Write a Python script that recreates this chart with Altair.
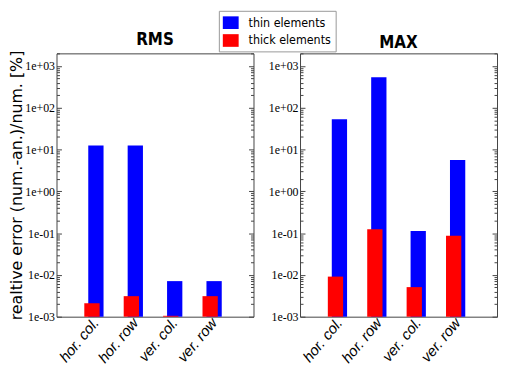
import altair as alt
import pandas as pd

categories = ["hor. col.", "hor. row", "ver. col.", "ver. row"]
series_names = ["thin elements", "thick elements"]
rms_thin = [12.5, 12.5, 0.0071, 0.0071]
rms_thick = [0.0021, 0.0031, 0.00105, 0.0031]
max_thin = [53, 540, 0.113, 5.6]
max_thick = [0.0091, 0.124, 0.0051, 0.086]

decades = [10.0 ** e for e in range(-3, 4)]
minor = [m * 10.0 ** e for e in range(-3, 4) for m in range(2, 10) if m * 10.0 ** e <= 2000]

FRAME = "#444444"
NARROW = "Liberation Sans Narrow, DejaVu Sans Condensed, Liberation Sans, sans-serif"
label_expr = ("'1e' + (round(log(datum.value)/LN10) < 0 ? '-' : '+') + "
              "(abs(round(log(datum.value)/LN10)) < 10 ? '0' : '') + abs(round(log(datum.value)/LN10))")

ysc = alt.Scale(type="log", domain=[0.001, 2000], nice=False)
xsc = alt.Scale(domain=categories, paddingInner=0.612, paddingOuter=0.806)

legend = alt.Legend(
    title=None, orient="none", legendX=164, legendY=-43,
    symbolType="M-1,-0.8H1V0.8H-1Z", symbolSize=256, symbolStrokeWidth=0,
    labelFont=NARROW, labelFontSize=12.5, labelColor="black",
    labelOffset=10, rowPadding=3, padding=4,
    strokeColor="#999999", fillColor="white",
)
color = alt.Color("type:N", scale=alt.Scale(domain=series_names, range=["#0000ff", "#ff0000"]),
                  legend=legend)

xaxis = alt.Axis(title=None, ticks=False, domain=False, labelAngle=-50,
                 labelFont="Liberation Sans", labelFontStyle="italic",
                 labelFontSize=15, labelColor="black", labelPadding=3)
X = alt.X("category:N", sort=categories, scale=xsc, axis=xaxis)


def panel(thin, thick, name, ytitle):
    df = pd.DataFrame({
        "category": categories * 2,
        "type": [series_names[0]] * 4 + [series_names[1]] * 4,
        "value": list(thin) + list(thick),
    })
    base = alt.Chart(df)
    major_left = alt.Axis(values=decades, labelExpr=label_expr, tickSize=5, offset=-5,
                          domain=False, grid=False, tickColor=FRAME,
                          labelFont="Liberation Serif", labelFontSize=12, labelColor="black",
                          labelPadding=2, orient="left",
                          title=ytitle if ytitle else None,
                          titleFont="DejaVu Sans", titleFontSize=16, titleFontWeight="normal",
                          titleColor="black", titlePadding=0)
    minor_left = alt.Axis(values=minor, labels=False, tickSize=3, offset=-3, domain=False,
                          grid=False, tickColor=FRAME, title=None, orient="left")
    major_right = alt.Axis(values=decades, labels=False, tickSize=5, offset=-5, domain=False,
                           grid=False, tickColor=FRAME, title=None, orient="right")
    minor_right = alt.Axis(values=minor, labels=False, tickSize=3, offset=-3, domain=False,
                           grid=False, tickColor=FRAME, title=None, orient="right")

    thin_layer = base.transform_filter(alt.datum.type == series_names[0]).mark_bar().encode(
        x=X,
        y=alt.Y("value:Q", scale=ysc, axis=major_left),
        y2=alt.datum(0.001),
        color=color,
    )
    thick_layer = base.transform_filter(alt.datum.type == series_names[1]).mark_bar(xOffset=-4).encode(
        x=X,
        y=alt.Y("value:Q", scale=ysc, axis=major_right),
        y2=alt.datum(0.001),
        color=color,
    )
    m1 = base.mark_bar(opacity=0).encode(
        x=X,
        y=alt.Y("value:Q", scale=ysc, axis=minor_left),
        y2=alt.datum(0.001),
    )
    m2 = base.mark_bar(opacity=0).encode(
        x=X,
        y=alt.Y("value:Q", scale=ysc, axis=minor_right),
        y2=alt.datum(0.001),
    )
    return alt.layer(thin_layer, thick_layer, m1, m2).resolve_axis(y="independent").properties(
        width=199, height=266,
        title=alt.Title(name, font=NARROW, fontSize=17, fontWeight="bold",
                        color="black", offset=1, frame="group", anchor="middle"),
    )


left = panel(rms_thin, rms_thick, "RMS", "realtive error (num.-an.)/num. [%]")
right = panel(max_thin, max_thick, "MAX", None)

chart = alt.hconcat(left, right, spacing=13).properties(
    padding={"left": 0, "top": 0, "right": 1, "bottom": 0}
).configure_view(stroke=FRAME, strokeWidth=1)

chart.save("out.html", embed_options={"renderer": "svg", "actions": False})
